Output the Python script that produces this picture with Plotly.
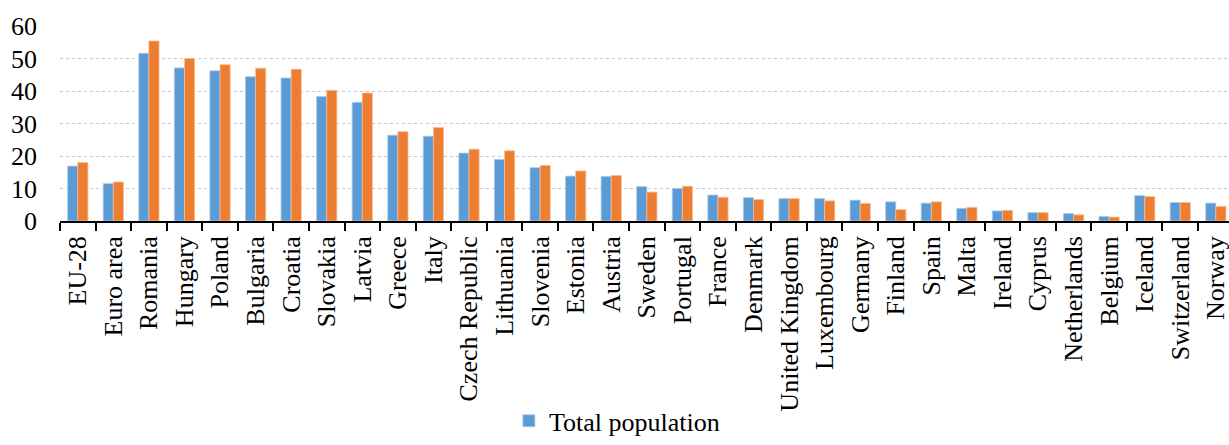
import plotly.graph_objects as go

categories = ["EU-28", "Euro area", "Romania", "Hungary", "Poland", "Bulgaria", "Croatia",
              "Slovakia", "Latvia", "Greece", "Italy", "Czech Republic", "Lithuania",
              "Slovenia", "Estonia", "Austria", "Sweden", "Portugal", "France", "Denmark",
              "United Kingdom", "Luxembourg", "Germany", "Finland", "Spain", "Malta",
              "Ireland", "Cyprus", "Netherlands", "Belgium", "Iceland", "Switzerland", "Norway"]

total_population = [16.9, 11.5, 51.6, 47.1, 46.2, 44.4, 44.0, 38.3, 36.5, 26.4,
                    26.1, 20.9, 18.9, 16.4, 13.8, 13.7, 10.6, 10.0, 8.0, 7.2,
                    6.9, 6.9, 6.4, 5.9, 5.5, 3.9, 3.1, 2.6, 2.3, 1.4,
                    7.8, 5.7, 5.5]

second_series = [18.0, 12.0, 55.4, 50.0, 48.1, 47.0, 46.7, 40.2, 39.4, 27.5,
                 28.8, 22.1, 21.6, 17.1, 15.4, 14.0, 8.9, 10.7, 7.3, 6.6,
                 6.9, 6.2, 5.4, 3.5, 5.9, 4.2, 3.3, 2.6, 1.9, 1.2,
                 7.5, 5.7, 4.5]

y_ticks = [0, 10, 20, 30, 40, 50, 60]

FONT = "Liberation Serif"

fig = go.Figure()
fig.add_trace(go.Bar(x=categories, y=total_population, name="Total population",
                     marker=dict(color="#5B9BD5", line=dict(color="#A9C9EA", width=0.8))))
fig.add_trace(go.Bar(x=categories, y=second_series, name="Series 2", showlegend=False,
                     marker=dict(color="#ED7D31", line=dict(color="#F6BE98", width=0.8))))

fig.update_layout(
    width=1229, height=445,
    margin=dict(l=60, r=0, t=26, b=219),
    paper_bgcolor="white", plot_bgcolor="white",
    font=dict(family=FONT, size=26, color="black"),
    barmode="group", bargap=0.43, bargroupgap=0,
    showlegend=True,
    legend=dict(orientation="h", x=0.384, xanchor="left", y=-1.025, yanchor="middle",
                font=dict(family=FONT, size=26, color="black"),
                bgcolor="rgba(0,0,0,0)", itemclick=False),
)
fig.update_xaxes(
    type="category", range=[-0.5, 32.37],
    showline=True, linecolor="black", linewidth=1.5,
    ticks="outside", tickson="boundaries", ticklen=8, tickcolor="black", tickwidth=1.5,
    tickangle=-90, tickfont=dict(family=FONT, size=26, color="black"),
    ticklabelstandoff=3,
    showgrid=False,
)
fig.update_yaxes(
    range=[0, 60], tickvals=y_ticks, showline=False, zeroline=False,
    showgrid=True, gridcolor="#c8c8c8", gridwidth=1, griddash="dot",
    ticklabelstandoff=22, tickfont=dict(family=FONT, size=26, color="black"),
)

fig.write_html("out.html")
